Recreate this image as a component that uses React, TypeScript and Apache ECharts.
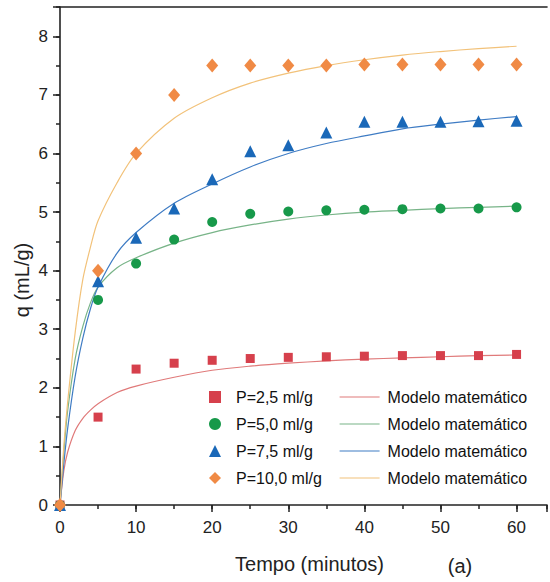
import React, { useEffect, useRef } from "react";
import * as echarts from "echarts";

const FONT = "'Liberation Sans', Arial, Helvetica, sans-serif";

const time = [0, 5, 10, 15, 20, 25, 30, 35, 40, 45, 50, 55, 60];
const p25 = [0, 1.5, 2.32, 2.42, 2.47, 2.5, 2.52, 2.53, 2.54, 2.55, 2.55, 2.55, 2.57];
const p50 = [0, 3.5, 4.12, 4.53, 4.83, 4.97, 5.01, 5.03, 5.04, 5.05, 5.06, 5.06, 5.08];
const p75 = [0, 3.82, 4.56, 5.06, 5.56, 6.04, 6.14, 6.36, 6.54, 6.54, 6.54, 6.55, 6.56];
const p100 = [0, 4.0, 6.0, 7.0, 7.5, 7.5, 7.5, 7.5, 7.52, 7.52, 7.52, 7.52, 7.52];

const tModel = [0, 0.5, 1, 2, 3, 4, 5, 7.5, 10, 15, 20, 25, 30, 35, 40, 45, 50, 55, 60];
const m25 = [0, 0.58, 0.9, 1.27, 1.48, 1.62, 1.73, 1.92, 2.03, 2.18, 2.3, 2.37, 2.42, 2.46, 2.49, 2.51, 2.53, 2.55, 2.56];
const m50 = [0, 0.9, 1.6, 2.5, 3.05, 3.45, 3.72, 4.05, 4.22, 4.47, 4.65, 4.78, 4.88, 4.95, 5.0, 5.03, 5.06, 5.08, 5.1];
const m75 = [0, 0.7, 1.3, 2.2, 2.85, 3.35, 3.72, 4.3, 4.65, 5.15, 5.48, 5.77, 6.0, 6.17, 6.3, 6.42, 6.5, 6.57, 6.63];
const m100 = [0, 1.0, 1.75, 2.95, 3.85, 4.4, 4.85, 5.5, 6.0, 6.6, 6.95, 7.2, 7.37, 7.5, 7.6, 7.68, 7.74, 7.79, 7.83];

const seriesNames = ["P=2,5 ml/g", "P=5,0 ml/g", "P=7,5 ml/g", "P=10,0 ml/g"];
const modelNames = ["Modelo matemático 1", "Modelo matemático 2", "Modelo matemático 3", "Modelo matemático 4"];
const modelLabel = "Modelo matemático";
const xTickLabels = [0, 10, 20, 30, 40, 50, 60];

const pointColors = ["#d6404c", "#17994a", "#1a68b8", "#f08a45"];
const lineColors = ["#e07a7a", "#78b488", "#3f7cc4", "#f2c27a"];
const symbols = ["rect", "circle", "triangle", "diamond"];
const symbolSizes: any[] = [9, 10, 12, [12, 14]];

const pair = (xs: number[], ys: number[]) => xs.map((x, i) => [x, ys[i]]);

export default function App() {
  const ref = useRef<HTMLDivElement>(null);
  useEffect(() => {
    document.body.style.margin = "0";
    const chart = echarts.init(ref.current!, null, { renderer: "svg" });
    const axisColor = "#222";
    const pts = [p25, p50, p75, p100];
    const mdl = [m25, m50, m75, m100];
    const lineSeries = mdl.map((m, i) => ({
      type: "line",
      name: modelNames[i],
      data: pair(tModel, m),
      showSymbol: false,
      symbol: "none",
      smooth: 0.3,
      lineStyle: { color: lineColors[i], width: 1.2 },
      itemStyle: { color: lineColors[i] },
      z: 2,
    }));
    const scatterSeries = pts.map((p, i) => ({
      type: "scatter",
      name: seriesNames[i],
      data: pair(time, p),
      symbol: symbols[i],
      symbolSize: symbolSizes[i],
      itemStyle: { color: pointColors[i], opacity: 1 },
      z: 3,
    }));
    chart.setOption({
      animation: false,
      textStyle: { fontFamily: FONT },
      grid: { left: 60, top: 7, width: 490.67, height: 498 },
      legend: [
        {
          data: seriesNames,
          orient: "vertical",
          left: 204,
          top: 382,
          itemWidth: 12,
          itemHeight: 12,
          itemGap: 7,
          symbolKeepAspect: true,
          selectedMode: false,
          textStyle: { fontSize: 16, color: "#111", fontFamily: FONT, lineHeight: 20, padding: [0, 0, 0, 10] },
        },
        {
          data: modelNames,
          orient: "vertical",
          left: 334,
          top: 382,
          itemWidth: 40,
          itemHeight: 12,
          itemGap: 7,
          selectedMode: false,
          formatter: () => modelLabel,
          itemStyle: { color: "rgba(0,0,0,0)", borderColor: "rgba(0,0,0,0)", borderWidth: 0 },
          lineStyle: { width: 1.2 },
          textStyle: { fontSize: 16, color: "#111", fontFamily: FONT, lineHeight: 20, padding: [0, 0, 0, 3] },
        },
      ],
      xAxis: [
        {
          type: "value",
          min: 0,
          max: 64,
          interval: 5,
          position: "bottom",
          axisLine: { show: true, lineStyle: { color: axisColor, width: 1.6 } },
          axisTick: { show: true, inside: false, length: 4, lineStyle: { color: axisColor, width: 1.5 } },
          axisLabel: {
            formatter: (v: number) => (xTickLabels.includes(v) ? String(v) : ""),
            margin: 14,
            fontSize: 17,
            color: "#222",
            fontFamily: FONT,
          },
          splitLine: { show: false },
          name: "Tempo (minutos)",
          nameLocation: "middle",
          nameGap: 49,
          nameTextStyle: { fontSize: 20, color: "#222", fontFamily: FONT, padding: [0, 0, 0, 12] },
        },
        {
          type: "value",
          min: 0,
          max: 64,
          interval: 10,
          position: "bottom",
          axisLine: { show: false },
          axisTick: { show: true, inside: false, length: 7, lineStyle: { color: axisColor, width: 1.5 } },
          axisLabel: { show: false },
          splitLine: { show: false },
        },
        {
          type: "value",
          min: 0,
          max: 64,
          position: "top",
          axisLine: { show: true, lineStyle: { color: axisColor, width: 1.6 } },
          axisTick: { show: false },
          axisLabel: { show: false },
          splitLine: { show: false },
        },
      ],
      yAxis: [
        {
          type: "value",
          min: 0,
          max: 8.5,
          interval: 0.5,
          position: "left",
          offset: 3,
          axisLine: { show: true, lineStyle: { color: axisColor, width: 1.6 } },
          axisTick: { show: true, inside: false, length: 4, lineStyle: { color: axisColor, width: 1.5 } },
          axisLabel: {
            formatter: (v: number) => (Number.isInteger(v) && v <= 8 ? String(v) : ""),
            margin: 9,
            fontSize: 17,
            color: "#222",
            fontFamily: FONT,
          },
          splitLine: { show: false },
        },
        {
          type: "value",
          min: 0,
          max: 8.5,
          interval: 1,
          position: "left",
          offset: 3,
          axisLine: { show: false },
          axisTick: { show: true, inside: false, length: 7, lineStyle: { color: axisColor, width: 1.5 } },
          axisLabel: { show: false },
          splitLine: { show: false },
        },
      ],
      graphic: [
        {
          type: "text",
          x: 22,
          y: 280,
          rotation: Math.PI / 2,
          style: {
            text: "q (mL/g)",
            fontSize: 20,
            fontFamily: FONT,
            fill: "#222",
            textAlign: "center",
            textVerticalAlign: "middle",
          },
        },
        {
          type: "text",
          x: 460,
          y: 566,
          style: {
            text: "(a)",
            fontSize: 20,
            fontFamily: FONT,
            fill: "#222",
            textAlign: "center",
            textVerticalAlign: "middle",
          },
        },
      ],
      series: [...lineSeries, ...scatterSeries],
    });
    return () => chart.dispose();
  }, []);
  return <div ref={ref} style={{ width: 550, height: 582 }} />;
}
